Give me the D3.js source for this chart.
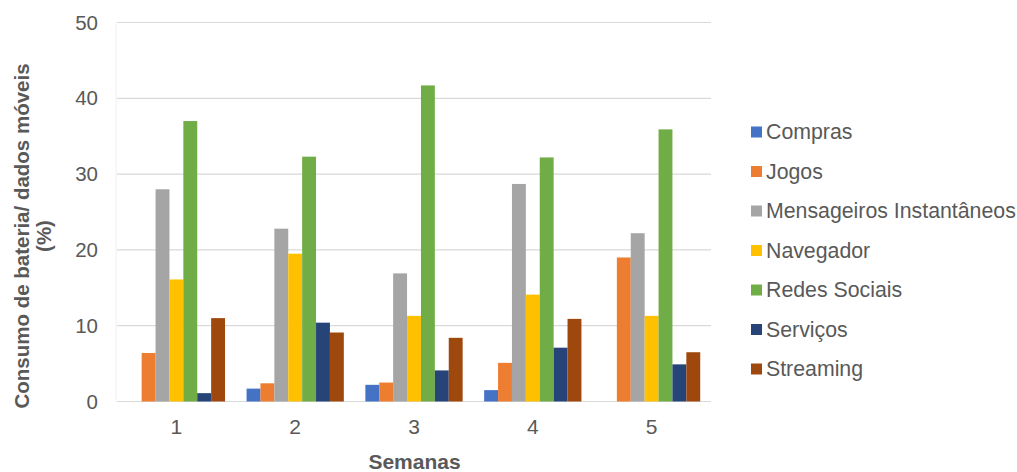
<!DOCTYPE html>
<html>
<head>
<meta charset="utf-8">
<script src="https://cdn.jsdelivr.net/npm/d3@7"></script>
<style>
  html, body { margin: 0; padding: 0; background: #fff; }
  svg { display: block; font-family: "Liberation Sans", Arial, sans-serif; }
</style>
</head>
<body>
<svg id="chart" width="1017" height="472"></svg>
<script>
// Weekly battery / mobile data consumption by app category
const weeks = ["1", "2", "3", "4", "5"];
const seriesNames = ["Compras", "Jogos", "Mensageiros Instantâneos", "Navegador", "Redes Sociais", "Serviços", "Streaming"];
const compras      = [0,    1.7,  2.2,  1.5,  0];
const jogos        = [6.4,  2.4,  2.5,  5.1,  19.0];
const mensageiros  = [28.0, 22.8, 16.9, 28.7, 22.2];
const navegador    = [16.1, 19.5, 11.3, 14.1, 11.3];
const redesSociais = [37.0, 32.3, 41.7, 32.2, 35.9];
const servicos     = [1.1,  10.4, 4.1,  7.1,  4.9];
const streaming    = [11.0, 9.1,  8.4,  10.9, 6.5];
const yTicks = [0, 10, 20, 30, 40, 50];
const colors = ["#4472C4", "#ED7D31", "#A5A5A5", "#FFC000", "#70AD47", "#264478", "#9E480E"];

const seriesValues = [compras, jogos, mensageiros, navegador, redesSociais, servicos, streaming];

const svg = d3.select("#chart");
const plot = { left: 117, right: 711, top: 22.5, bottom: 401.5 };
const textColor = "#595959";

const x = d3.scaleBand().domain(weeks).range([plot.left, plot.right]).paddingInner(0).paddingOuter(0);
const y = d3.scaleLinear().domain([0, 50]).range([plot.bottom, plot.top]);

// inner band: gap between groups = 155% of a bar width
const bw = x.bandwidth();
const barW = bw / (seriesNames.length + 1.55);
const gap = bw - barW * seriesNames.length;
const xs = d3.scaleBand().domain(seriesNames).range([gap / 2, bw - gap / 2]).padding(0);

// gridlines
svg.append("g")
  .selectAll("line")
  .data(yTicks)
  .join("line")
  .attr("x1", plot.left).attr("x2", plot.right)
  .attr("y1", d => y(d)).attr("y2", d => y(d))
  .attr("stroke", "#d9d9d9").attr("stroke-width", 1.2);

// faint left border of plot area
svg.append("line")
  .attr("x1", plot.left - 1).attr("x2", plot.left - 1)
  .attr("y1", plot.top).attr("y2", plot.bottom)
  .attr("stroke", "#f0f0f0").attr("stroke-width", 1);

// y axis labels
const yAxis = d3.axisLeft(y).tickValues(yTicks).tickSize(0).tickPadding(19);
const gy = svg.append("g").attr("transform", `translate(${plot.left},0)`).call(yAxis);
gy.select(".domain").remove();
gy.selectAll("text").attr("fill", textColor).attr("font-size", 20.5).attr("font-family", "Liberation Sans, Arial, sans-serif");

// x axis labels
const xAxis = d3.axisBottom(x).tickSize(0).tickPadding(18);
const gx = svg.append("g").attr("transform", `translate(0,${plot.bottom})`).call(xAxis);
gx.select(".domain").remove();
gx.selectAll("text").attr("fill", textColor).attr("font-size", 21).attr("font-family", "Liberation Sans, Arial, sans-serif");

// bars
const groups = svg.append("g")
  .selectAll("g")
  .data(weeks)
  .join("g")
  .attr("transform", d => `translate(${x(d)},0)`);

groups.selectAll("rect")
  .data((w, i) => seriesNames.map((s, k) => ({ s, k, v: seriesValues[k][i] })))
  .join("rect")
  .attr("x", d => xs(d.s))
  .attr("width", xs.bandwidth())
  .attr("y", d => y(d.v))
  .attr("height", d => y(0) - y(d.v))
  .attr("fill", d => colors[d.k]);

// axis titles
svg.append("text")
  .attr("x", (plot.left + plot.right) / 2 + 0.5)
  .attr("y", 469)
  .attr("text-anchor", "middle")
  .attr("font-weight", "bold")
  .attr("font-size", 21)
  .attr("fill", textColor)
  .text("Semanas");

const yTitle = svg.append("text")
  .attr("transform", "translate(0,236) rotate(-90)")
  .attr("text-anchor", "middle")
  .attr("font-weight", "bold")
  .attr("font-size", 20.5)
  .attr("fill", textColor);
yTitle.append("tspan").attr("x", 0).attr("y", 29).text("Consumo de bateria/ dados móveis");
yTitle.append("tspan").attr("x", 0).attr("y", 51).text("(%)");

// legend
const legend = svg.append("g")
  .selectAll("g")
  .data(seriesNames)
  .join("g")
  .attr("transform", (d, i) => `translate(751,${132 + i * 39.5})`);
legend.append("rect")
  .attr("x", 0).attr("y", -5.5)
  .attr("width", 11).attr("height", 11)
  .attr("fill", (d, i) => colors[i]);
legend.append("text")
  .attr("x", 15).attr("y", 0)
  .attr("dy", "0.35em")
  .attr("font-size", 21.3)
  .attr("fill", textColor)
  .text(d => d);
</script>
</body>
</html>
